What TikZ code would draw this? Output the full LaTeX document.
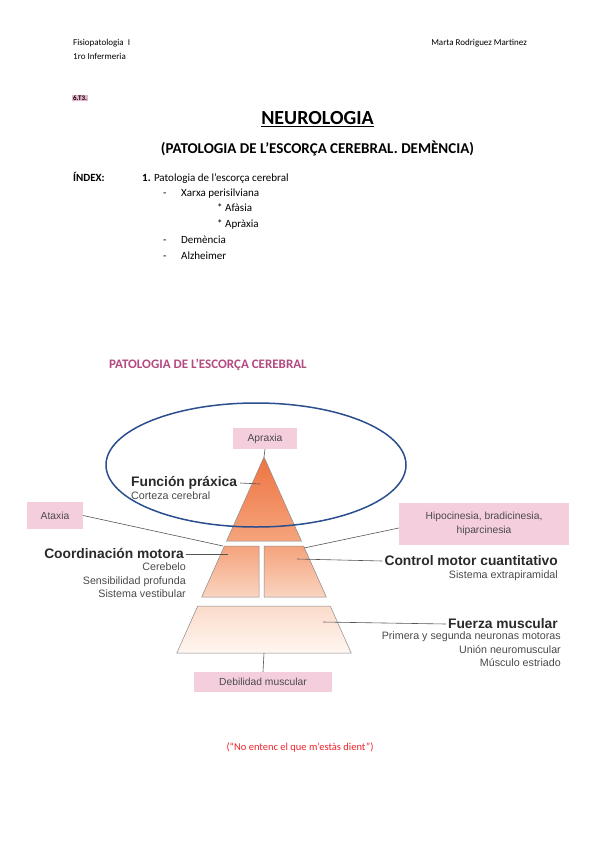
\documentclass[tikz,border=0pt]{standalone}
\usepackage{fontspec}
\setmainfont{Carlito}
\newfontfamily\arial{Liberation Sans}
\usetikzlibrary{shapes.geometric}
\definecolor{pinkbox}{HTML}{F5CEDD}
\definecolor{hlpink}{HTML}{E9B7CD}
\definecolor{headpink}{HTML}{B34A80}
\definecolor{ellblue}{HTML}{2B4F8E}
\definecolor{lbl}{HTML}{2A2A2A}
\definecolor{sublbl}{HTML}{4A4A4A}
\definecolor{pyredge}{HTML}{8A8A8A}
\definecolor{conn}{HTML}{555555}
\definecolor{noteRed}{HTML}{F0222A}
\tikzset{
  doc/.style={anchor=base west, inner sep=0pt, font=\fontsize{11}{13}\selectfont},
  hdr/.style={inner sep=0pt, font=\fontsize{9}{10}\selectfont},
  pbox/.style={fill=pinkbox, inner sep=0pt, text=sublbl, font=\arial\fontsize{10.3}{14.5}\selectfont, align=center},
  btitle/.style={inner sep=0pt, text=lbl, font=\arial\bfseries\fontsize{13.8}{15}\selectfont},
  sub/.style={inner sep=0pt, text=sublbl, font=\arial\fontsize{10.7}{13.3}\selectfont, align=right},
  tier/.style={draw=pyredge, line width=0.5pt},
  cline/.style={draw=conn, line width=0.6pt}
}
\begin{document}
\begin{tikzpicture}[x=1pt,y=-1pt]
\useasboundingbox (0,0) rectangle (600,848);
\fill[white] (0,0) rectangle (600,848);

% header
\node[hdr, anchor=west] (h1) at (73,43) {Fisiopatologia\ \ I};
\node[hdr, anchor=west] (h2) at (73,56) {1ro Infermeria};
\node[hdr, anchor=east] (h3) at (527,43) {Marta Rodriguez Martinez};
\node[hdr, anchor=west, fill=hlpink, inner sep=1pt, font=\bfseries\fontsize{7}{8}\selectfont] (h4) at (72,98) {6.T3.};

% titles
\node[inner sep=0pt, font=\bfseries\fontsize{20}{24}\selectfont] (t1) at (317.5,119) {\underline{NEUROLOGIA}};
\node[inner sep=0pt, font=\bfseries\fontsize{15}{18}\selectfont] (t2) at (317.5,148) {(PATOLOGIA DE L’ESCORÇA CEREBRAL. DEMÈNCIA)};

% index
\node[doc, font=\bfseries\fontsize{11}{13}\selectfont] (i0) at (73,181) {ÍNDEX:};
\node[doc] (i1) at (142,181) {\textbf{1.} Patologia de l’escorça cerebral};
\node[doc] (d1) at (163,196) {-};
\node[doc] (i2) at (181,196) {Xarxa perisilviana};
\node[doc] (i3) at (217,211) {* Afàsia};
\node[doc] (i4) at (217,227) {* Apràxia};
\node[doc] (d2) at (163,243) {-};
\node[doc] (i5) at (181,243) {Demència};
\node[doc] (d3) at (163,259) {-};
\node[doc] (i6) at (181,259) {Alzheimer};

% section heading
\node[inner sep=0pt, anchor=west, text=headpink, font=\bfseries\fontsize{13}{15}\selectfont] (sec) at (109,365) {PATOLOGIA DE L’ESCORÇA CEREBRAL};

% pyramid
\path[tier, top color={rgb,255:red,238;green,116;blue,66}, bottom color={rgb,255:red,245;green,164;blue,124}]
  (264,457) -- (301.4,541) -- (226.6,541) -- cycle;
\path[tier, top color={rgb,255:red,245;green,163;blue,124}, bottom color={rgb,255:red,250;green,212;blue,192}]
  (224.4,546) -- (259,546) -- (259,597) -- (201.7,597) -- cycle;
\path[tier, top color={rgb,255:red,245;green,163;blue,124}, bottom color={rgb,255:red,250;green,212;blue,192}]
  (264,546) -- (303.6,546) -- (326.3,597) -- (264,597) -- cycle;
\path[tier, top color={rgb,255:red,251;green,219;blue,202}, bottom color={rgb,255:red,255;green,246;blue,240}]
  (197.7,606) -- (330.3,606) -- (351.2,653) -- (176.8,653) -- cycle;

\coordinate (apex) at (264,457);
\coordinate (cFP) at (260,484);
\coordinate (cAx) at (223,546);
\coordinate (cHb) at (304,548);
\coordinate (cCM) at (228,554);
\coordinate (cCQ) at (297,559);
\coordinate (cFM) at (323,622);
\coordinate (cBase) at (264,653);

% pink boxes
\node[pbox, minimum width=64pt, minimum height=21pt] (apx) at (265,438.5) {Apraxia};
\node[pbox, minimum width=56pt, minimum height=27pt] (ax) at (55,515.5) {Ataxia};
\node[pbox, minimum width=170pt, minimum height=42pt] (hb) at (484,524) {Hipocinesia, bradicinesia,\\hiparcinesia};
\node[pbox, minimum width=138pt, minimum height=20pt] (dm) at (263,682) {Debilidad muscular};

% labels
\node[btitle, anchor=west] (fp) at (131,483) {Función práxica};
\node[sub, anchor=north west] (fps) at (131,491.5) {Corteza cerebral};
\node[btitle, anchor=east] (cm) at (184,554) {Coordinación motora};
\node[sub, anchor=north east] (cms) at (186,563) {Cerebelo\\Sensibilidad profunda\\Sistema vestibular};
\node[btitle, anchor=east] (cq) at (558,561) {Control motor cuantitativo};
\node[sub, anchor=north east] (cqs) at (558,571) {Sistema extrapiramidal};
\node[btitle, anchor=east] (fm) at (558,624) {Fuerza muscular};
\node[sub, anchor=north east] (fms) at (561,632) {Primera y segunda neuronas motoras\\Unión neuromuscular\\Músculo estriado};

% connectors
\draw[cline] (apx.south) -- (apex);
\draw[cline] ([xshift=3pt]fp.east) -- (cFP);
\draw[cline] (ax.east) -- (cAx);
\draw[cline] ([yshift=-4pt]hb.west) -- (cHb);
\draw[cline] ([xshift=2pt]cm.east) -- (cCM);
\draw[cline] (cCQ) -- ([xshift=-2pt]cq.west);
\draw[cline] (cFM) -- ([xshift=-2pt]fm.west);
\draw[cline] (cBase) -- (dm.north);

% ellipse
\node[draw=ellblue, line width=1.5pt, ellipse, minimum width=300pt, minimum height=124pt, inner sep=0pt] (ell) at (256,465) {};

% note
\node[inner sep=0pt, text=noteRed, font=\fontsize{10.5}{12}\selectfont] (note) at (300,747) {(“No entenc el que m’estàs dient”)};
\end{tikzpicture}
\end{document}
